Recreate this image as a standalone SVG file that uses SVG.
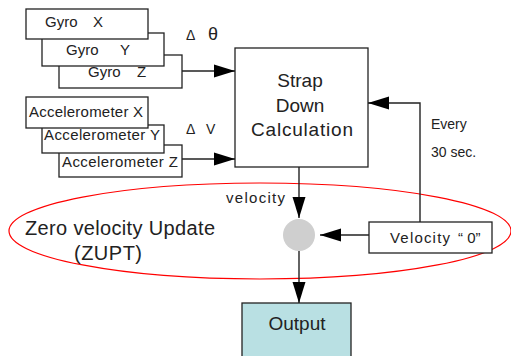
<svg xmlns="http://www.w3.org/2000/svg" width="511" height="356" viewBox="0 0 511 356">
<style>
text{font-family:"Liberation Sans",Arial,sans-serif;fill:#222}
.box{fill:#fff;stroke:#222;stroke-width:1.3}
.s{font-size:15px}
.line{fill:none;stroke:#222;stroke-width:1.4}
</style>
<defs>
<marker id="ah" markerUnits="userSpaceOnUse" markerWidth="22" markerHeight="14" refX="21" refY="7" orient="auto">
<path d="M0,0.5 L21,7 L0,13.5 z" fill="#000"/>
</marker>
</defs>
<rect width="511" height="356" fill="#fff"/>
<g id="zupt">
<ellipse cx="260" cy="231" rx="251" ry="48" fill="none" stroke="#f00" stroke-width="1.2"/>
<text x="25" y="235" font-size="20" textLength="190">Zero velocity Update</text>
<text x="74" y="260" font-size="20" textLength="68">(ZUPT)</text>
</g>
<g id="gyro-z"><rect class="box" x="59" y="55" width="123" height="33"/><text class="s" y="77"><tspan x="88">Gyro</tspan><tspan x="137">Z</tspan></text></g>
<g id="gyro-y"><rect class="box" x="42" y="33" width="122" height="33"/><text class="s" y="55"><tspan x="66">Gyro</tspan><tspan x="120">Y</tspan></text></g>
<g id="gyro-x"><rect class="box" x="26" y="9" width="122" height="30"/><text class="s" y="27"><tspan x="45">Gyro</tspan><tspan x="93">X</tspan></text></g>
<g id="acc-z"><rect class="box" x="59" y="145" width="123" height="32"/><text class="s" x="62" y="167" textLength="116">Accelerometer Z</text></g>
<g id="acc-y"><rect class="box" x="42" y="125" width="122" height="28"/><text class="s" x="44" y="140" textLength="116">Accelerometer Y</text></g>
<g id="acc-x"><rect class="box" x="26" y="97" width="122" height="31"/><text class="s" x="29" y="117" textLength="114">Accelerometer X</text></g>
<g id="labels">
<text x="186" y="40" font-size="14">Δ</text>
<text x="208" y="40" font-size="18">θ</text>
<text x="186" y="134" font-size="14">Δ</text>
<text x="206" y="134" font-size="14">V</text>
<text x="431" y="129" font-size="14">Every</text>
<text x="431" y="157" font-size="14">30 sec.</text>
<text x="226" y="203" font-size="15" textLength="59">velocity</text>
</g>
<g id="strapdown">
<rect class="box" x="235" y="48" width="133" height="119"/>
<text x="300" y="87" font-size="19" text-anchor="middle">Strap</text>
<text x="300" y="112" font-size="19" text-anchor="middle">Down</text>
<text x="251" y="136" font-size="19" textLength="102">Calculation</text>
</g>
<g id="velocity-zero">
<rect class="box" x="369" y="222" width="123" height="31"/>
<text x="390" y="243" font-size="15" textLength="60">Velocity</text>
<text x="458" y="243" font-size="15">“ 0”</text>
</g>
<g id="junction"><circle cx="299" cy="235" r="16" fill="#cfcfcf"/></g>
<g id="output">
<rect x="242" y="303" width="109" height="60" fill="#b9e0e3" stroke="#222" stroke-width="1.3"/>
<text x="297" y="330" font-size="19" text-anchor="middle">Output</text>
</g>
<g id="connectors">
<path class="line" d="M182,71 H235" marker-end="url(#ah)"/>
<path class="line" d="M182,159 H235" marker-end="url(#ah)"/>
<path class="line" d="M420,222 V103 H368" marker-end="url(#ah)"/>
<path class="line" d="M299,167 V218" marker-end="url(#ah)"/>
<path class="line" d="M369,235 H320" marker-end="url(#ah)"/>
<path class="line" d="M299,251 V303" marker-end="url(#ah)"/>
</g>
</svg>
